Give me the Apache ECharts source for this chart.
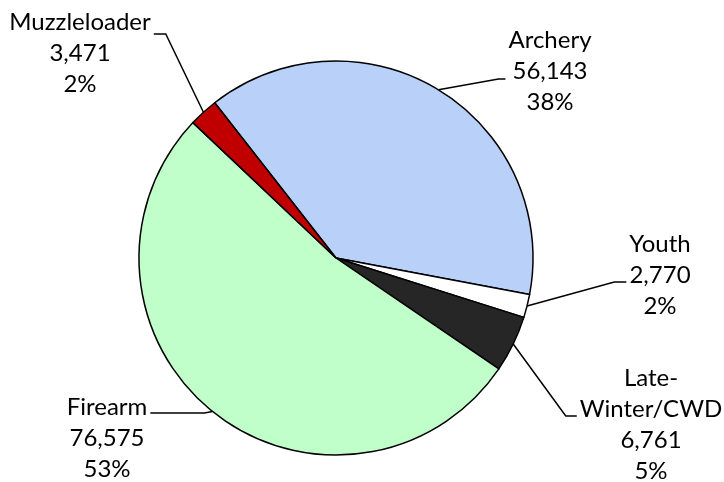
<!DOCTYPE html>
<html><head><meta charset="utf-8">
<script src="https://cdn.jsdelivr.net/npm/echarts@6/dist/echarts.min.js"></script>
<style>html,body{margin:0;padding:0;background:#fff}#c{width:724px;height:482px}</style>
</head><body><div id="c"></div>
<script>
const categories = ['Archery', 'Youth', 'Late-Winter/CWD', 'Firearm', 'Muzzleloader'];
const labelNames = ['Archery', 'Youth', 'Late-\nWinter/CWD', 'Firearm', 'Muzzleloader'];
const values = [56143, 2770, 6761, 76575, 3471];
const colors = ['#B9D1F9', '#FFFFFF', '#262626', '#C0FFC9', '#C00000'];

// label placement (layout only)
const labelSpots = [
  {x: 550, y: 71,  ly: 79,  side: 'left',  len: 7},
  {x: 660, y: 275, ly: 282, side: 'left',  len: 12},
  {x: 651, y: 425, ly: 416, side: 'left',  len: 11},
  {x: 107, y: 438, ly: 413, side: 'right', len: 54},
  {x: 80,  y: 53,  ly: 34,  side: 'right', len: 12}
];

const chart = echarts.init(document.getElementById('c'), null, {renderer: 'canvas'});
chart.setOption({
  backgroundColor: '#fff',
  animation: false,
  series: [{
    type: 'pie',
    center: [336, 258],
    radius: 197,
    startAngle: 128,
    clockwise: true,
    percentPrecision: 0,
    avoidLabelOverlap: false,
    data: categories.map((c, i) => ({name: c, value: values[i], itemStyle: {color: colors[i]}})),
    itemStyle: {borderColor: '#000', borderWidth: 1.5},
    label: {
      show: true, position: 'outside',
      formatter: p => labelNames[p.dataIndex] + '\n' + echarts.format.addCommas(p.value) + '\n' + p.percent + '%',
      fontFamily: 'Lato', fontSize: 24, lineHeight: 31, color: '#000', align: 'center'
    },
    labelLine: {show: true, lineStyle: {color: '#000', width: 1.5}, smooth: false},
    labelLayout: function (params) {
      const s = labelSpots[params.dataIndex];
      const w = params.labelRect.width;
      const anchor = params.labelLinePoints[0];
      const endX = s.side === 'left' ? s.x - w / 2 - 3 : s.x + w / 2 + 3;
      const turnX = s.side === 'left' ? endX - s.len : endX + s.len;
      return {x: s.x, y: s.y, align: 'center', verticalAlign: 'middle',
        labelLinePoints: [anchor, [turnX, s.ly], [endX, s.ly]]};
    },
    emphasis: {disabled: true}
  }]
});
</script></body></html>
